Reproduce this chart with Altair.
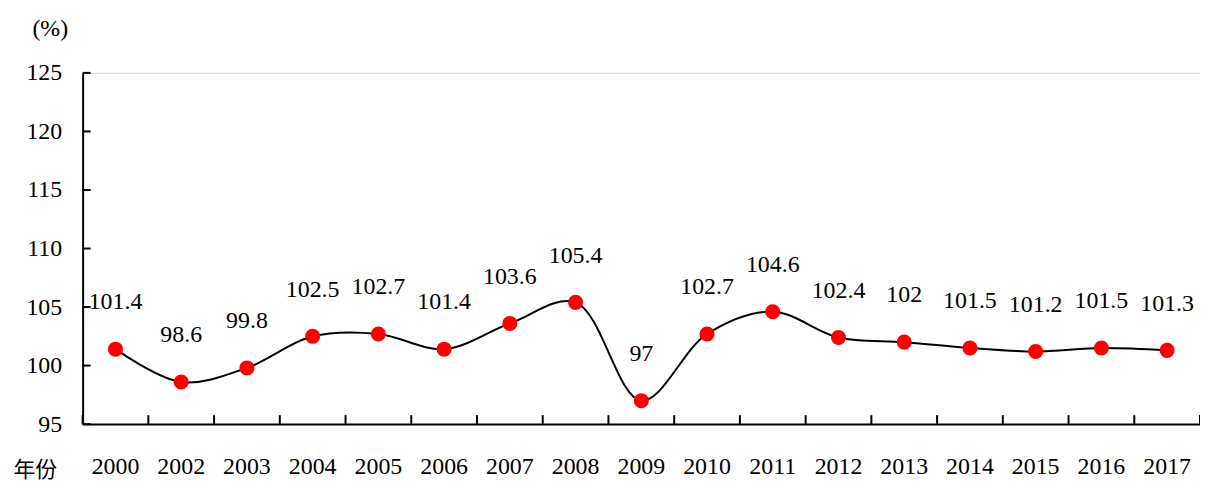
import altair as alt
import pandas as pd

years = ["2000", "2002", "2003", "2004", "2005", "2006", "2007", "2008", "2009",
         "2010", "2011", "2012", "2013", "2014", "2015", "2016", "2017"]
values = [101.4, 98.6, 99.8, 102.5, 102.7, 101.4, 103.6, 105.4, 97,
          102.7, 104.6, 102.4, 102, 101.5, 101.2, 101.5, 101.3]
y_ticks = [95, 100, 105, 110, 115, 120, 125]

df = pd.DataFrame({"year": years, "value": values,
                   "label": [f"{v:g}" for v in values]})
tick_df = pd.DataFrame({"value": y_ticks})

W, H = 1123, 353
SERIF = "Liberation Serif"

xscale = alt.Scale(type="band", domain=years, paddingInner=0, paddingOuter=0)
yscale = alt.Scale(domain=[95, 125], nice=False, zero=False)

xaxis = alt.Axis(title="年份", titleFont="Noto Sans CJK SC", titleFontSize=22,
                 titleFontWeight="normal", titleX=-48, titleY=46,
                 titleAlign="center", titleBaseline="middle", titleColor="black",
                 labelFont=SERIF, labelFontSize=24, labelAngle=0,
                 labelPadding=31, ticks=False, domainColor="black",
                 domainWidth=2, labelColor="black")
yaxis = alt.Axis(title="(%)", titleAngle=0, titleFont=SERIF, titleFontSize=24,
                 titleFontWeight="normal", titleX=-33, titleY=-45,
                 titleAlign="center", titleBaseline="middle", titleColor="black",
                 values=y_ticks, labelFont=SERIF, labelFontSize=24,
                 labelPadding=21, ticks=False, grid=False,
                 domainColor="black", domainWidth=2, labelColor="black")

base = alt.Chart(df)

line = base.mark_line(interpolate="catmull-rom", color="black", strokeWidth=2).encode(
    x=alt.X("year:N", scale=xscale, sort=years, axis=xaxis),
    y=alt.Y("value:Q", scale=yscale, axis=yaxis),
)

points = base.mark_point(filled=True, color="#FF0000", size=230, opacity=1).encode(
    x=alt.X("year:N", scale=xscale, sort=years, axis=xaxis),
    y=alt.Y("value:Q", scale=yscale, axis=yaxis),
)

labels = base.mark_text(font=SERIF, fontSize=24, dy=-47, color="black",
                        baseline="middle").encode(
    x=alt.X("year:N", scale=xscale, sort=years, axis=xaxis),
    y=alt.Y("value:Q", scale=yscale, axis=yaxis),
    text="label:N",
)

xticks = base.mark_rule(color="black", strokeWidth=2).encode(
    x=alt.X("year:N", scale=xscale, sort=years, bandPosition=0, axis=xaxis),
    y=alt.value(H),
    y2=alt.value(H - 9),
)
xtick_end = base.mark_rule(color="black", strokeWidth=2).encode(
    x=alt.value(W), y=alt.value(H), y2=alt.value(H - 9)
)

yticks = alt.Chart(tick_df).mark_rule(color="black", strokeWidth=2).encode(
    y=alt.Y("value:Q", scale=yscale, axis=yaxis),
    x=alt.value(0),
    x2=alt.value(8),
)

chart = alt.layer(line, xticks, xtick_end, yticks, points, labels).properties(
    width=W, height=H,
    autosize=alt.AutoSizeParams(type="none"),
    padding={"left": 75, "top": 64, "right": 0, "bottom": 66},
).configure_view(stroke=None).configure(background="white")

chart.save("out.html", embed_options={"renderer": "svg", "actions": False})
